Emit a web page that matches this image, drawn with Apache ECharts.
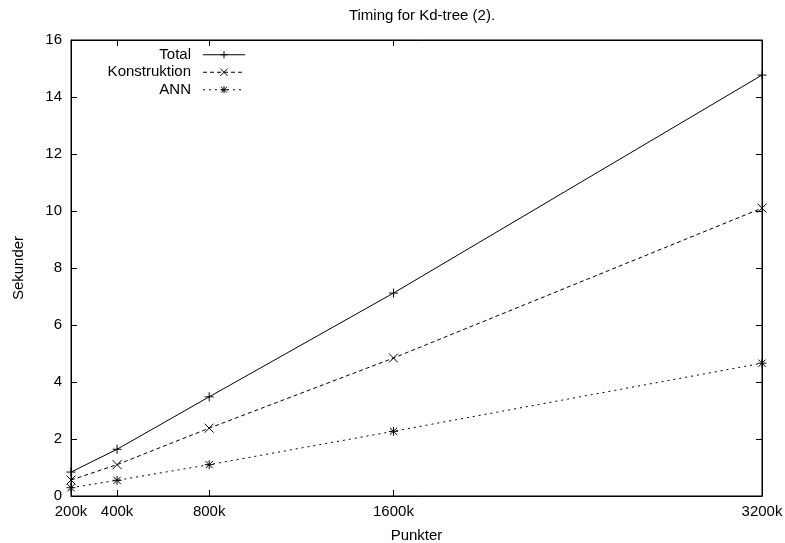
<!DOCTYPE html>
<html><head><meta charset="utf-8">
<script src="https://cdn.jsdelivr.net/npm/echarts@6/dist/echarts.min.js"></script>
<style>html,body{margin:0;padding:0;background:#fff}#c{width:785px;height:543px}</style>
</head><body><div id="c"></div>
<script>
const points = [200, 400, 800, 1600, 3200];
const xTickLabels = ['200k', '400k', '800k', '1600k', '3200k'];
const total = [0.84, 1.64, 3.48, 7.12, 14.77];
const konstruktion = [0.56, 1.10, 2.38, 4.84, 10.10];
const ann = [0.29, 0.55, 1.10, 2.27, 4.66];

const FONT = 'Liberation Sans';
const FS = 15;
const plus = 'path://M0,5L10,5M5,0L5,10';
const cross = 'path://M0,0L10,10M10,0L0,10';
const star = 'path://M0,5L10,5M5,0L5,10M1,1L9,9M9,1L1,9';

function pairs(vals){ return points.map((p,i)=>[p, vals[i]]); }
function ser(name, vals, sym, dash){
  return {
    name, type:'line', data: pairs(vals), symbol: sym, symbolSize: 9,
    lineStyle:{color:'#000', width:1, type: dash},
    itemStyle:{color:'transparent', borderColor:'#000', borderWidth:1},
    emphasis:{disabled:true}, animation:false
  };
}
const chart = echarts.init(document.getElementById('c'));
const axisCommon = {
  axisLine:{show:true, onZero:false, lineStyle:{color:'#000', width:1}},
  splitLine:{show:false}
};
chart.setOption({
  animation:false,
  title:{text:'Timing for Kd-tree (2).', left:417, textAlign:'center', top:3,
    textStyle:{fontFamily:FONT, fontSize:FS, fontWeight:'normal', color:'#000'}},
  grid:{left:71, right:23, top:40, bottom:47, outerBoundsMode:'none', containLabel:false,
    show:true, borderColor:'#000', borderWidth:1, backgroundColor:'transparent'},
  legend:{
    orient:'vertical', left:91, top:41, align:'right', itemGap:0,
    itemWidth:42, itemHeight:9,
    lineStyle:{width:1},
    itemStyle:{borderWidth:1},
    textStyle:{fontFamily:FONT, fontSize:FS, color:'#000', width:95, align:'right', padding:[0,7,0,0], lineHeight:17.5},
    data:['Total','Konstruktion','ANN']
  },
  xAxis:[
    Object.assign({type:'value', min:200, max:3200, position:'bottom',
      name:'Punkter', nameLocation:'middle', nameGap:32,
      nameTextStyle:{fontFamily:FONT, fontSize:FS, color:'#000'},
      axisTick:{show:true, inside:true, length:6, customValues: points, lineStyle:{color:'#000'}},
      axisLabel:{customValues: points, formatter:(v)=>xTickLabels[points.indexOf(v)],
        fontFamily:FONT, fontSize:FS, color:'#000', margin:8}}, axisCommon),
    Object.assign({type:'value', min:200, max:3200, position:'top',
      axisTick:{show:true, inside:true, length:6, customValues: points, lineStyle:{color:'#000'}},
      axisLabel:{show:false}}, axisCommon)
  ],
  yAxis:[
    Object.assign({type:'value', min:0, max:16, interval:2, position:'left',
      name:'Sekunder', nameLocation:'middle', nameGap:45,
      nameTextStyle:{fontFamily:FONT, fontSize:FS, color:'#000'},
      axisTick:{show:true, inside:true, length:6, lineStyle:{color:'#000'}},
      axisLabel:{fontFamily:FONT, fontSize:FS, color:'#000', margin:9}}, axisCommon),
    Object.assign({type:'value', min:0, max:16, interval:2, position:'right',
      axisTick:{show:true, inside:true, length:6, lineStyle:{color:'#000'}},
      axisLabel:{show:false}}, axisCommon)
  ],
  series:[
    ser('Total', total, plus, 'solid'),
    ser('Konstruktion', konstruktion, cross, [4,3]),
    ser('ANN', ann, star, [2,4])
  ]
});
</script></body></html>
